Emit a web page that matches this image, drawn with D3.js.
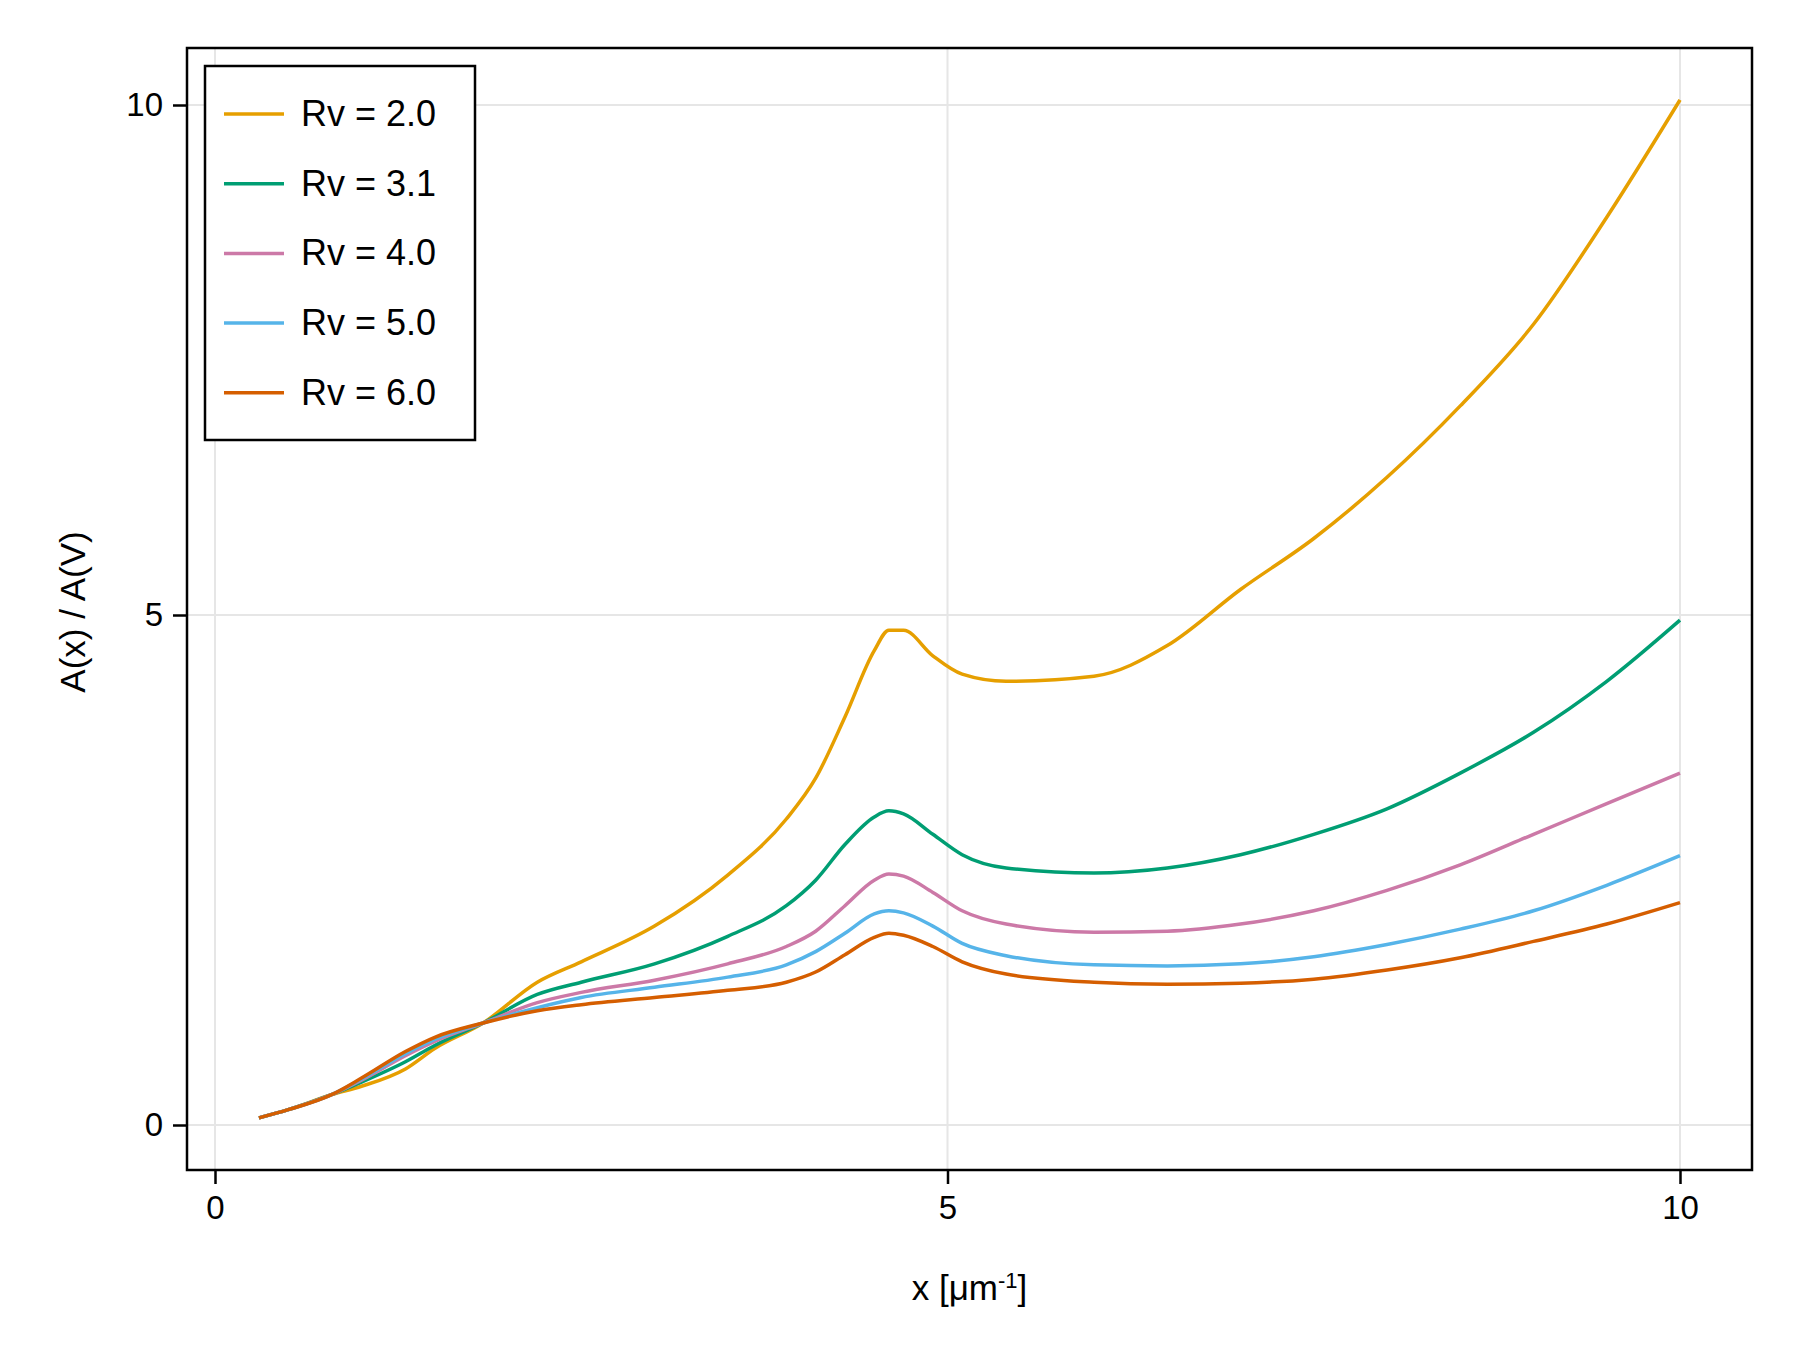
<!DOCTYPE html>
<html><head><meta charset="utf-8">
<script src="https://cdn.jsdelivr.net/npm/d3@7"></script>
<style>body{margin:0;background:#fff}text{font-family:"Liberation Sans",Arial,sans-serif}</style>
</head><body><div id="chart"></div>
<script>
const xs = [0.3,0.5,0.8,1.0,1.3,1.5,1.83,2.2,2.5,3.0,3.5,3.9,4.1,4.3,4.5,4.6,4.7,4.9,5.1,5.4,6.0,6.5,7.0,7.5,8.0,8.5,9.0,9.5,10];
const rv20 = [0.07,0.15,0.3,0.38,0.55,0.75,1.0,1.4,1.6,1.95,2.45,3.0,3.4,4.0,4.65,4.85,4.85,4.6,4.42,4.35,4.4,4.7,5.25,5.75,6.35,7.05,7.85,8.9,10.05];
const rv31 = [0.07,0.15,0.3,0.42,0.62,0.78,1.0,1.28,1.4,1.58,1.85,2.15,2.4,2.75,3.02,3.08,3.05,2.85,2.65,2.52,2.47,2.52,2.65,2.85,3.1,3.45,3.85,4.35,4.95];
const rv40 = [0.07,0.15,0.3,0.44,0.68,0.82,1.0,1.2,1.3,1.42,1.58,1.75,1.9,2.15,2.4,2.46,2.44,2.28,2.1,1.97,1.89,1.9,1.97,2.1,2.3,2.55,2.85,3.15,3.45];
const rv50 = [0.07,0.15,0.3,0.45,0.7,0.84,1.0,1.15,1.25,1.35,1.45,1.57,1.7,1.88,2.07,2.1,2.08,1.95,1.78,1.66,1.57,1.56,1.58,1.65,1.77,1.92,2.1,2.35,2.64];
const rv60 = [0.07,0.15,0.3,0.46,0.72,0.86,1.0,1.12,1.18,1.25,1.32,1.4,1.5,1.67,1.84,1.88,1.86,1.75,1.6,1.48,1.4,1.38,1.39,1.43,1.52,1.64,1.8,1.97,2.18];
const names = ["Rv = 2.0","Rv = 3.1","Rv = 4.0","Rv = 5.0","Rv = 6.0"];
const colors = ["#e69f00","#009e73","#cc79a7","#56b4e9","#d55e00"];
const series = [rv20,rv31,rv40,rv50,rv60];
const xTicks = [0,5,10], yTicks = [0,5,10];

const W = 1800, H = 1350;
const L = 187, R = 1752, T = 48, B = 1170;
const svg = d3.select("#chart").append("svg").attr("width", W).attr("height", H);
const x = d3.scaleLinear().domain([0,10]).range([215,1680]);
const y = d3.scaleLinear().domain([0,10]).range([1125,105]);

// grid
svg.append("g").selectAll("line").data(xTicks).join("line")
  .attr("x1", d => x(d)).attr("x2", d => x(d)).attr("y1", T).attr("y2", B)
  .attr("stroke", "#e6e6e6").attr("stroke-width", 2);
svg.append("g").selectAll("line").data(yTicks).join("line")
  .attr("y1", d => y(d)).attr("y2", d => y(d)).attr("x1", L).attr("x2", R)
  .attr("stroke", "#e6e6e6").attr("stroke-width", 2);

// axes
const xa = svg.append("g").attr("transform", `translate(0,${B})`)
  .call(d3.axisBottom(x).tickValues(xTicks).tickSize(14).tickPadding(12).tickFormat(d3.format("d")));
const ya = svg.append("g").attr("transform", `translate(${L},0)`)
  .call(d3.axisLeft(y).tickValues(yTicks).tickSize(14).tickPadding(10).tickFormat(d3.format("d")));
[xa, ya].forEach(a => {
  a.select(".domain").remove();
  a.selectAll("line").attr("stroke", "#000").attr("stroke-width", 2.5);
  a.selectAll("text").attr("font-size", 33).attr("fill", "#000");
});
svg.append("rect").attr("x", L).attr("y", T).attr("width", R - L).attr("height", B - T)
  .attr("fill", "none").attr("stroke", "#000").attr("stroke-width", 2.5);

// lines
const line = d3.line().x((d, i) => x(xs[i])).y(d => y(d)).curve(d3.curveMonotoneX);
series.forEach((s, k) => {
  svg.append("path").datum(s).attr("fill", "none").attr("stroke", colors[k])
    .attr("stroke-width", 3.5).attr("d", line);
});

// labels
svg.append("text").attr("x", (L + R) / 2).attr("y", 1300).attr("text-anchor", "middle")
  .attr("font-size", 35).html('x [μm<tspan dy="-12" font-size="22">-1</tspan><tspan dy="12">]</tspan>');
svg.append("text").attr("transform", "translate(85,612) rotate(-90)").attr("text-anchor", "middle")
  .attr("font-size", 35).text("A(x) / A(V)");

// legend
const lg = svg.append("g");
lg.append("rect").attr("x", 205).attr("y", 66).attr("width", 270).attr("height", 374)
  .attr("fill", "#fff").attr("stroke", "#000").attr("stroke-width", 2.5);
names.forEach((n, k) => {
  const yy = 114 + k * 69.7;
  lg.append("line").attr("x1", 224).attr("x2", 284).attr("y1", yy).attr("y2", yy)
    .attr("stroke", colors[k]).attr("stroke-width", 3.5);
  lg.append("text").attr("x", 301).attr("y", yy + 12).attr("font-size", 36).text(n);
});
</script></body></html>
